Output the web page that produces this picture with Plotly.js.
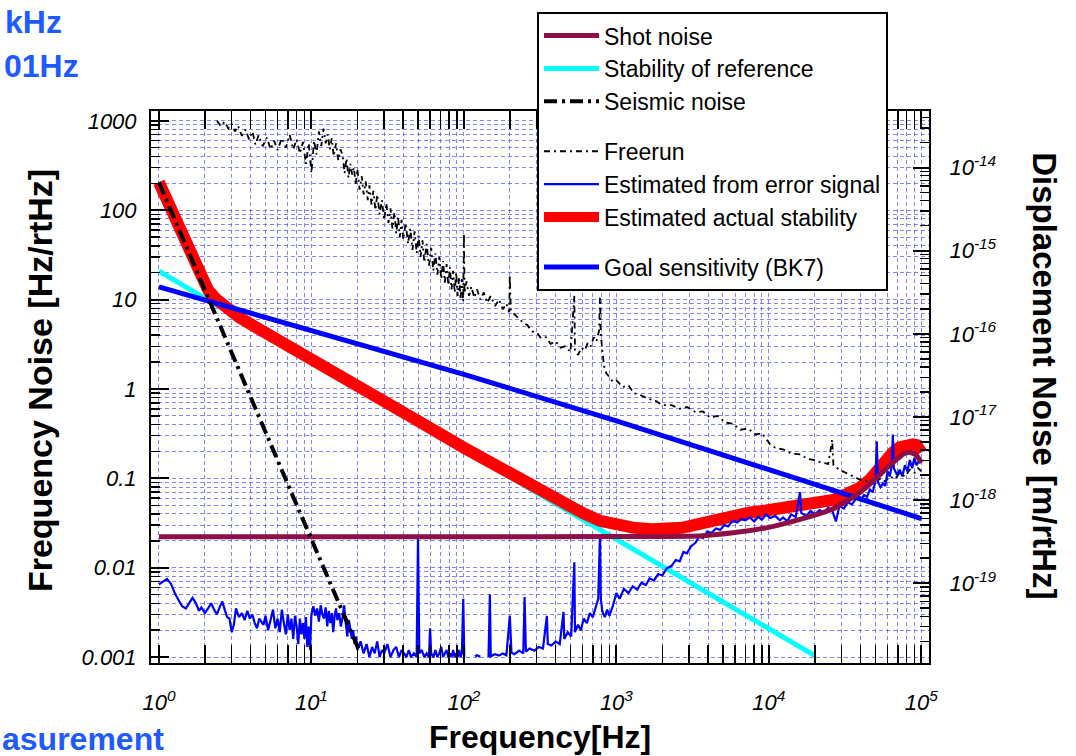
<!DOCTYPE html>
<html><head><meta charset="utf-8">
<script src="https://cdn.plot.ly/plotly-3.0.1.min.js"></script>
<style>html,body{margin:0;padding:0;background:#fff}#chart{width:1076px;height:756px}</style>
</head><body><div id="chart"></div>
<script>
// ---------- data ----------
const shotFreq = [1, 10, 100, 1000, 3500, 5800, 9600, 16000, 26500, 39500, 55000, 62000, 71000, 76000, 81000, 87000, 93000, 100000];
const shotVal  = [0.0222, 0.0222, 0.0222, 0.0224, 0.0227, 0.0246, 0.0279, 0.0347, 0.0457, 0.0696, 0.115, 0.14, 0.17, 0.187, 0.195, 0.192, 0.18, 0.15];

const refFreq = [1, 10, 100, 1000, 10000, 20000];
const refVal  = [20.8, 2.08, 0.208, 0.0208, 0.00208, 0.00104];

const seisFreq = [1, 1.5, 2, 3, 5, 7, 10, 14, 20.5];
const seisVal  = [205, 40, 12.8, 2.5, 0.33, 0.086, 0.021, 0.0054, 0.0012];

const goalFreq = [1, 10, 100, 1000, 10000, 100000];
const goalVal  = [13.9, 4.5, 1.46, 0.44, 0.125, 0.0355];

const actualFreq = [1, 1.2, 1.43, 1.6, 1.85, 2.1, 2.39, 2.8, 3.38, 4, 5.1, 7.5, 10, 20, 50, 100, 200, 400, 600, 780, 1000, 1280, 1700, 2150, 2700, 3500, 4500, 5800, 7500, 9600, 12500, 16000, 20500, 26500, 32000, 39500, 46000, 52000, 58000, 65000, 72000, 81000, 88000, 93000, 100000];
const actualVal  = [205, 100, 49, 31, 17.8, 12.8, 10.0, 7.8, 6.3, 5.3, 4.2, 2.9, 2.2, 1.1, 0.44, 0.22, 0.112, 0.058, 0.041, 0.0335, 0.030, 0.0281, 0.027, 0.0268, 0.028, 0.031, 0.035, 0.039, 0.0415, 0.0437, 0.0465, 0.0495, 0.053, 0.0575, 0.066, 0.0785, 0.097, 0.127, 0.16, 0.195, 0.222, 0.24, 0.24, 0.235, 0.195];

const freeFreq = [2.4, 2.55, 2.7, 2.85, 3.0, 3.15, 3.3, 3.5, 3.7, 3.9, 4.1, 4.3, 4.5, 4.8, 5.1, 5.4, 5.7, 6.0, 6.4, 6.8, 7.2, 7.6, 8.0, 8.4, 8.8, 9.2, 9.6, 10, 10.4, 10.8, 11.2, 11.6, 12, 12.4, 12.8, 13.2, 13.6, 14, 14.5, 15, 15.5, 16, 16.5, 17, 17.5, 18, 18.5, 19, 19.5, 20, 20.7, 21.4, 22, 22.7, 23.4, 24, 24.8, 25.5, 26.3, 27, 28, 29, 30, 31, 32, 33, 34, 35, 36, 37, 38, 39, 40, 41.5, 43, 44.5, 46, 47.5, 49, 50.5, 52, 53.5, 55, 57, 59, 61, 63, 65, 67, 69, 71, 73, 75, 77, 79, 81, 83, 85, 87, 89, 91, 93, 95, 97, 99, 100, 101, 104, 108, 112, 117, 122, 128, 135, 142, 150, 160, 170, 180, 190, 198, 200, 203, 215, 230, 245, 260, 280, 300, 320, 345, 370, 400, 430, 460, 500, 530, 535, 560, 590, 620, 650, 680, 710, 740, 770, 780, 790, 810, 830, 860, 900, 950, 1000, 1100, 1200, 1300, 1450, 1600, 1800, 2000, 2300, 2600, 2900, 3300, 3700, 4100, 4600, 5200, 5800, 6500, 7300, 8200, 9000, 9600, 10200, 11000, 12500, 14000, 16000, 18000, 20000, 22000, 24500, 26000, 26500, 29000, 32000, 35000, 38000, 42000, 46000, 50000, 54000, 58000, 62000, 67000, 72000, 78000, 84000, 90000, 95000, 100000];
const freeVal  = [1000, 870, 980, 820, 930, 760, 880, 680, 800, 620, 760, 540, 690, 520, 650, 480, 600, 470, 640, 500, 700, 480, 620, 430, 580, 330, 560, 260, 600, 420, 760, 520, 820, 560, 700, 480, 640, 400, 560, 360, 480, 420, 260, 380, 230, 330, 250, 300, 190, 290, 170, 240, 150, 210, 130, 190, 115, 165, 100, 150, 90, 130, 78, 120, 72, 105, 62, 95, 55, 85, 50, 78, 47, 72, 42, 62, 36, 58, 33, 52, 30, 46, 26, 42, 24, 38, 21, 33, 19, 30, 17, 27, 15.5, 25, 14.5, 23, 13, 21, 12, 20, 11, 18, 10, 17, 9.5, 55, 12, 16, 11, 14, 10.5, 13, 10, 12, 9.2, 11, 8.5, 10, 7.8, 9, 7.2, 19, 7.5, 6.8, 6, 5.5, 5.2, 4.4, 4.3, 3.7, 3.8, 3.2, 3.4, 2.9, 3.0, 2.6, 11, 2.7, 2.4, 2.9, 2.7, 3.3, 3.0, 3.8, 3.4, 4.5, 10.5, 4.2, 2.6, 1.8, 1.5, 1.35, 1.2, 1.25, 1.05, 1.1, 0.9, 0.85, 0.78, 0.74, 0.66, 0.66, 0.6, 0.63, 0.55, 0.56, 0.48, 0.5, 0.42, 0.41, 0.35, 0.36, 0.31, 0.32, 0.28, 0.24, 0.22, 0.21, 0.19, 0.185, 0.165, 0.16, 0.15, 0.145, 0.27, 0.14, 0.125, 0.115, 0.105, 0.1, 0.092, 0.095, 0.088, 0.1, 0.092, 0.105, 0.098, 0.115, 0.105, 0.125, 0.115, 0.13, 0.12];

const errFreq = [1.0, 1.06, 1.13, 1.2, 1.27, 1.35, 1.42, 1.5, 1.58, 1.66, 1.75, 1.83, 1.9, 2.0, 2.1, 2.2, 2.3, 2.4, 2.5, 2.6, 2.7, 2.8, 2.9, 3.0, 3.1, 3.2, 3.35, 3.5, 3.65, 3.8, 3.95, 4.1, 4.25, 4.4, 4.55, 4.7, 4.85, 5.0, 5.2, 5.4, 5.6, 5.8, 6.0, 6.2, 6.4, 6.6, 6.8, 7.0, 7.2, 7.4, 7.6, 7.8, 8.0, 8.2, 8.4, 8.6, 8.8, 9.0, 9.2, 9.4, 9.6, 9.8, 10.0, 10.3, 10.6, 10.9, 11.2, 11.5, 11.8, 12.1, 12.4, 12.7, 13.0, 13.3, 13.6, 13.9, 14.2, 14.5, 14.8, 15.2, 15.6, 16.0, 16.4, 16.8, 17.2, 17.6, 18.0, 18.4, 18.8, 19.2, 19.6, 20, 21, 22, 23, 24, 25, 26, 27, 28, 29, 30, 31.5, 33, 34.5, 36, 37.5, 39, 40.5, 42, 43.5, 45, 47, 49, 50, 51, 53, 55, 57, 59, 60, 61, 63, 65, 67, 69, 71, 73, 75, 77, 79, 81, 83, 85, 87, 89, 91, 93, 95, 97, 99, 100.5, 101, 118, 122, 128, 131, 145, 148, 150, 160, 170, 180, 190, 200, 205, 215, 230, 245, 250, 255, 270, 290, 310, 330, 350, 355, 375, 400, 425, 450, 455, 480, 505, 530, 535, 560, 585, 610, 640, 670, 700, 730, 760, 780, 790, 810, 840, 870, 900, 950, 1000, 1050, 1120, 1200, 1280, 1370, 1460, 1560, 1650, 1760, 1880, 2000, 2150, 2300, 2450, 2600, 2750, 2900, 3100, 3300, 3500, 3700, 3950, 4200, 4500, 4800, 5100, 5400, 5800, 6200, 6600, 7000, 7500, 8000, 8500, 9000, 9600, 10200, 11000, 11800, 12400, 13200, 14000, 15000, 16000, 16300, 17500, 18800, 20000, 21500, 23000, 24500, 26000, 27500, 29000, 31000, 33000, 35000, 37500, 40000, 42000, 44000, 46000, 48000, 50000, 51000, 52000, 54000, 56000, 58000, 60000, 62000, 64000, 65000, 66000, 69000, 72000, 75000, 78000, 81000, 84000, 87000, 90000, 93000, 96000, 100000];
const errVal  = [0.0065, 0.0070, 0.0075, 0.0066, 0.0052, 0.0043, 0.0037, 0.0035, 0.0041, 0.0046, 0.0040, 0.0033, 0.0036, 0.0031, 0.0035, 0.0040, 0.0034, 0.0030, 0.0036, 0.0042, 0.0034, 0.0028, 0.0027, 0.0019, 0.0023, 0.0035, 0.0028, 0.0031, 0.0026, 0.0033, 0.0027, 0.0030, 0.0024, 0.0021, 0.0027, 0.0025, 0.0023, 0.0029, 0.0020, 0.0026, 0.0034, 0.0021, 0.0027, 0.0019, 0.0034, 0.0024, 0.0018, 0.0030, 0.0020, 0.0027, 0.0016, 0.0029, 0.0022, 0.0014, 0.0027, 0.0018, 0.0024, 0.0016, 0.0028, 0.0013, 0.0022, 0.0012, 0.0030, 0.0037, 0.0029, 0.0035, 0.0025, 0.0038, 0.0030, 0.0027, 0.0036, 0.0022, 0.0033, 0.0024, 0.0031, 0.0019, 0.0029, 0.0035, 0.0026, 0.0031, 0.0022, 0.0028, 0.0038, 0.0024, 0.0017, 0.0026, 0.0021, 0.0016, 0.0020, 0.0014, 0.0017, 0.0012, 0.0015, 0.0011, 0.0014, 0.0010, 0.0013, 0.0011, 0.0015, 0.0010, 0.0012, 0.0011, 0.0014, 0.0010, 0.0012, 0.0013, 0.0010, 0.0012, 0.0011, 0.0010, 0.0012, 0.0010, 0.0011, 0.0010, 0.022, 0.0011, 0.0012, 0.0010, 0.0011, 0.0010, 0.0021, 0.0011, 0.0010, 0.0012, 0.0010, 0.0011, 0.0013, 0.0010, 0.0011, 0.0012, 0.0010, 0.0011, 0.0010, 0.0012, 0.0010, 0.0011, 0.0010, 0.0012, 0.0010, 0.0011, 0.0045, 0.0010, null, 0.00102, 0.00105, 0.00101, null, 0.00100, 0.0050, 0.00102, 0.00108, 0.00104, 0.0011, 0.00105, 0.0029, 0.00112, 0.00108, 0.00118, 0.0011, 0.0047, 0.00115, 0.00125, 0.00118, 0.0013, 0.00125, 0.0029, 0.0014, 0.00135, 0.0015, 0.0014, 0.0032, 0.0016, 0.0019, 0.0017, 0.0115, 0.0019, 0.0023, 0.0020, 0.0027, 0.0024, 0.0031, 0.0028, 0.0036, 0.0045, 0.023, 0.0045, 0.0032, 0.0028, 0.0034, 0.0029, 0.0038, 0.0052, 0.0045, 0.0058, 0.0052, 0.0062, 0.0057, 0.0068, 0.0064, 0.0076, 0.0072, 0.0085, 0.0082, 0.0099, 0.0105, 0.0122, 0.0118, 0.0150, 0.0145, 0.0175, 0.0190, 0.0225, 0.0215, 0.0255, 0.0245, 0.0275, 0.0265, 0.0300, 0.0290, 0.0335, 0.0320, 0.0350, 0.0340, 0.0365, 0.0330, 0.0370, 0.0345, 0.0395, 0.0360, 0.0380, 0.0340, 0.0365, 0.0330, 0.0395, 0.0370, 0.0700, 0.0410, 0.0380, 0.0430, 0.0395, 0.0440, 0.0410, 0.0470, 0.0440, 0.0330, 0.0490, 0.0460, 0.0540, 0.0510, 0.0600, 0.0560, 0.0650, 0.0620, 0.0750, 0.0700, 0.0950, 0.2600, 0.0900, 0.0800, 0.0880, 0.0820, 0.1200, 0.1050, 0.1400, 0.3100, 0.1300, 0.1100, 0.1250, 0.1050, 0.1400, 0.1200, 0.1600, 0.1300, 0.1700, 0.1400, 0.1550, 0.1500];

const xTickVals = [1, 10, 100, 1000, 10000, 100000];
const xTickText = ['10<sup>0</sup>', '10<sup>1</sup>', '10<sup>2</sup>', '10<sup>3</sup>', '10<sup>4</sup>', '10<sup>5</sup>'];
const yTickVals = [0.001, 0.01, 0.1, 1, 10, 100, 1000];
const yTickText = ['0.001', '0.01', '0.1', '1', '10', '100', '1000'];
const y2TickVals = [1e-19, 1e-18, 1e-17, 1e-16, 1e-15, 1e-14];
const y2TickText = ['10<sup>-19</sup>', '10<sup>-18</sup>', '10<sup>-17</sup>', '10<sup>-16</sup>', '10<sup>-15</sup>', '10<sup>-14</sup>'];

// ---------- helpers ----------
function minorVals(eLo, eHi, lo, hi) {
  const v = [];
  for (let e = eLo; e <= eHi; e++) for (let m = 2; m <= 9; m++) {
    const t = m * Math.pow(10, e);
    if (t > lo && t < hi) v.push(t);
  }
  return v;
}
const FONT = '"Liberation Sans", Arial, sans-serif';
const GRID = 'rgba(80,80,255,0.7)';
const XR = [-0.052, 5.05], YR = [-3.066, 3.11], Y2R = [-19.96, -13.32];

const traces = [
  {x: refFreq, y: refVal, name: 'Stability of reference', mode: 'lines',
   line: {color: '#00ffff', width: 5}, legendgroup: 'g1', legendrank: 2},
  {x: actualFreq, y: actualVal, name: 'Estimated actual stability', mode: 'lines',
   line: {color: '#ff0000', width: 12}, legendgroup: 'g2', legendrank: 6},
  {x: freeFreq, y: freeVal, name: 'Freerun', mode: 'lines',
   line: {color: '#000000', width: 1.8, dash: '6px,4px,2px,4px'}, legendgroup: 'g2', legendrank: 4},
  {x: errFreq, y: errVal, name: 'Estimated from error signal', mode: 'lines', connectgaps: false,
   line: {color: '#0000ff', width: 2.2}, legendgroup: 'g2', legendrank: 5},
  {x: goalFreq, y: goalVal, name: 'Goal sensitivity (BK7)', mode: 'lines',
   line: {color: '#0000ff', width: 5}, legendgroup: 'g3', legendrank: 7},
  {x: shotFreq, y: shotVal, name: 'Shot noise', mode: 'lines',
   line: {color: '#8c0f45', width: 5, shape: 'spline', smoothing: 0.6}, legendgroup: 'g1', legendrank: 1},
  {x: seisFreq, y: seisVal, name: 'Seismic noise', mode: 'lines',
   line: {color: '#000000', width: 4, dash: '13px,5px,3px,5px'}, legendgroup: 'g1', legendrank: 3},
  {x: [1], y: [1e-16], yaxis: 'y2', mode: 'lines', showlegend: false, hoverinfo: 'skip'}
];

const axisCommon = {
  type: 'log', tickmode: 'array', ticks: 'inside', tickcolor: '#000', tickwidth: 2,
  showline: true, linecolor: '#000', linewidth: 2, zeroline: false,
  tickfont: {family: FONT, size: 22, style: 'italic', color: '#000'}
};

const layout = {
  width: 1076, height: 756,
  margin: {l: 151, r: 147, t: 105, b: 93, pad: 0},
  paper_bgcolor: '#fff', plot_bgcolor: '#fff',
  font: {family: FONT, color: '#000'},
  showlegend: true,
  legend: {x: (537 - 151) / 778, y: (663 - 5) / 558, xanchor: 'left', yanchor: 'top',
    bgcolor: '#fff', bordercolor: '#000', borderwidth: 2,
    font: {family: FONT, size: 23, color: '#000'},
    traceorder: 'grouped', tracegroupgap: 17, itemwidth: 55},
  xaxis: Object.assign({}, axisCommon, {
    range: XR, tickvals: xTickVals, ticktext: xTickText, ticklen: 18, mirror: 'allticks',
    showgrid: true, gridcolor: GRID, gridwidth: 1, griddash: '4px,3px', ticklabelstandoff: 19,
    minor: {tickmode: 'array', tickvals: minorVals(0, 4, 1, 1e5), ticks: 'inside', ticklen: 8,
      tickwidth: 1.5, tickcolor: '#000', showgrid: true, gridcolor: GRID, gridwidth: 1, griddash: '4px,3px'}
  }),
  yaxis: Object.assign({}, axisCommon, {
    range: YR, tickvals: yTickVals, ticktext: yTickText, ticklen: 18, mirror: false,
    showgrid: true, gridcolor: GRID, gridwidth: 1, griddash: '4px,3px', ticklabelstandoff: 8,
    minor: {tickmode: 'array', tickvals: minorVals(-3, 2, 0.001, 1000), ticks: 'inside', ticklen: 9,
      tickwidth: 1.5, tickcolor: '#000', showgrid: true, gridcolor: GRID, gridwidth: 1, griddash: '4px,3px'}
  }),
  yaxis2: Object.assign({}, axisCommon, {
    overlaying: 'y', side: 'right', range: Y2R, tickvals: y2TickVals, ticktext: y2TickText,
    ticklen: 16, showgrid: false, ticklabelstandoff: 14,
    minor: {tickmode: 'array', tickvals: minorVals(-20, -14, 1.1e-20, 4.8e-14), ticks: 'inside', ticklen: 9,
      tickwidth: 1.5, tickcolor: '#000', showgrid: false}
  }),
  annotations: [
    {text: '<b>Frequency[Hz]</b>', xref: 'paper', yref: 'paper', x: (540 - 151) / 778, y: (663 - 738) / 558,
     xanchor: 'center', yanchor: 'middle', showarrow: false, font: {family: FONT, size: 32, color: '#000'}},
    {text: '<b>Frequency Noise [Hz/rtHz]</b>', xref: 'paper', yref: 'paper', x: (40 - 151) / 778, y: (663 - 378) / 558,
     xanchor: 'center', yanchor: 'middle', textangle: -90, showarrow: false, font: {family: FONT, size: 34, color: '#000'}},
    {text: '<b>Displacement Noise [m/rtHz]</b>', xref: 'paper', yref: 'paper', x: (1045 - 151) / 778, y: (663 - 372) / 558,
     xanchor: 'center', yanchor: 'middle', textangle: 90, showarrow: false, font: {family: FONT, size: 33, color: '#000'}},
    {text: '<b>kHz</b>', xref: 'paper', yref: 'paper', x: (64 - 151) / 778, y: (663 - 15) / 558,
     xanchor: 'right', yanchor: 'middle', showarrow: false, font: {family: FONT, size: 32, color: '#1e5aff'}},
    {text: '<b>01Hz</b>', xref: 'paper', yref: 'paper', x: (81 - 151) / 778, y: (663 - 60) / 558,
     xanchor: 'right', yanchor: 'middle', showarrow: false, font: {family: FONT, size: 32, color: '#1e5aff'}},
    {text: '<b>asurement</b>', xref: 'paper', yref: 'paper', x: (0 - 151) / 778, y: (663 - 740) / 558,
     xanchor: 'left', yanchor: 'middle', showarrow: false, font: {family: FONT, size: 32, color: '#1e5aff'}}
  ]
};

Plotly.newPlot('chart', traces, layout, {staticPlot: true, displayModeBar: false});
</script></body></html>
